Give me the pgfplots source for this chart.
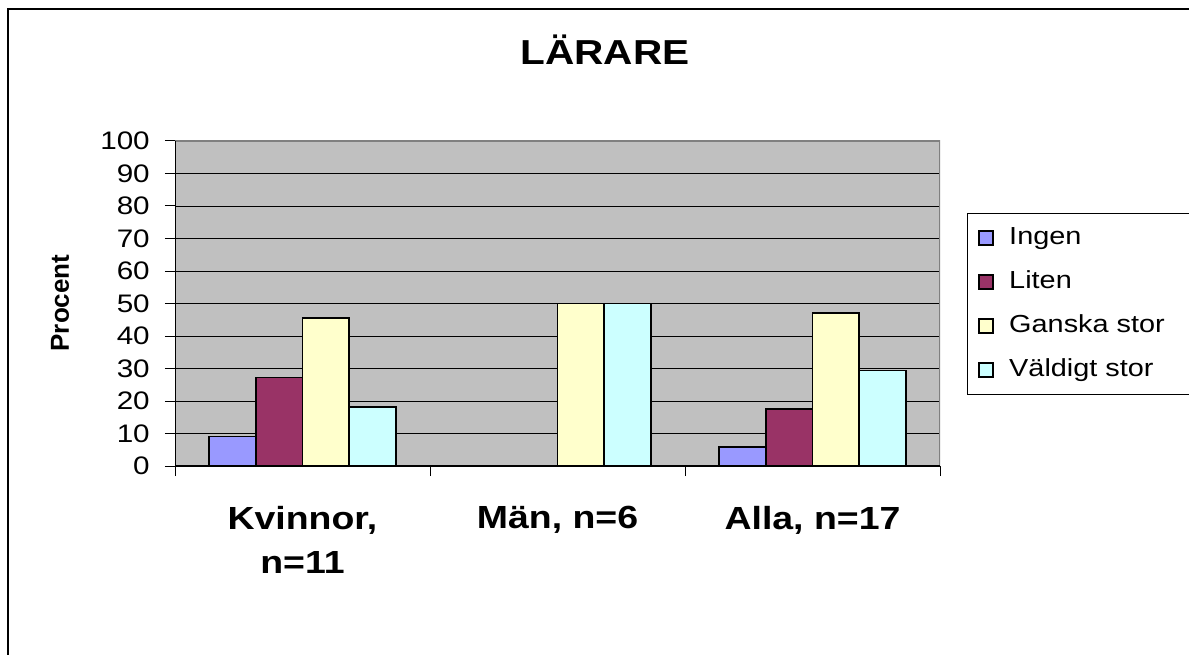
\documentclass[border=0pt]{standalone}
\usepackage{fontspec}
\setmainfont{Liberation Sans}
\usepackage{graphicx}
\usepackage{pgfplots}
\pgfplotsset{compat=1.18}
\definecolor{ingen}{HTML}{9999FF}
\definecolor{liten}{HTML}{993366}
\definecolor{ganska}{HTML}{FFFFCC}
\definecolor{valdigt}{HTML}{CCFFFF}
\definecolor{plotbg}{HTML}{C0C0C0}
\definecolor{pframe}{HTML}{808080}
\newcommand\sx[1]{\scalebox{1.17}[1]{#1}}
\begin{document}
\begin{tikzpicture}
\useasboundingbox (0,0) rectangle (891.75pt,490.5pt);
\draw[line width=1.4pt] (6pt,-5pt) -- (6pt,483.75pt) -- (900pt,483.75pt);
\begin{axis}[
  at={(131.25pt,141pt)}, anchor=south west,
  width=573.75pt, height=243.75pt, scale only axis,
  xmin=-0.5, xmax=2.5, ymin=0, ymax=100,
  ybar=0pt, bar width=0.183,
  axis background/.style={fill=plotbg},
  axis line style={draw=none},
  ytick={0,10,...,100},
  yticklabel={\sx{\pgfmathprintnumber[assume math mode=true]{\tick}}},
  yticklabel style={font=\fontsize{19}{22}\selectfont, anchor=east, inner sep=0pt, xshift=-11.25pt},
  ymajorgrids, major grid style={black, line width=0.7pt},
  tick align=outside, ytick pos=left, xtick pos=bottom,
  major tick length=7.5pt,
  tick style={black, line width=0.75pt},
  xtick={-0.5,0.5,1.5,2.5}, xticklabels={},
  extra x ticks={0,1,2},
  extra x tick labels={{\sx{Kvinnor,}\\\sx{n=11}}, {\sx{Män, n=6}}, {\sx{Alla, n=17}}},
  extra x tick style={major tick length=0pt, tick label style={font=\bfseries\fontsize{24}{33}\selectfont, align=center, anchor=north, inner sep=0pt, yshift=-30pt}},
  title={\sx{LÄRARE}},
  title style={font=\bfseries\fontsize{26}{30}\selectfont, at={(axis description cs:0.562,1.2123)}, anchor=base},
  ylabel={Procent},
  ylabel style={font=\bfseries\fontsize{19.5}{22}\selectfont, at={(axis description cs:-0.1503,0.5015)}, anchor=center},
  legend image code/.code={\draw[#1] (0pt,-5pt) rectangle (10.5pt,5.5pt);},
  legend cell align=left,
  legend style={at={(1.0353,0.7785)}, anchor=north west, draw=black, line width=0.75pt, fill=white,
    inner xsep=8pt, inner ysep=10pt, row sep=16pt, column sep=11.5pt,
    font=\fontsize{18.5}{20}\selectfont,
    nodes={inner sep=0pt, text height=13pt, text depth=4pt}},
]
\addplot[fill=ingen, draw=black, line width=1.3pt] coordinates {(0,9.09) (2,5.88)};
\addlegendentry{\makebox[140pt][l]{\sx{Ingen}}}
\addplot[fill=liten, draw=black, line width=1.3pt] coordinates {(0,27.27) (2,17.65)};
\addlegendentry{\makebox[140pt][l]{\sx{Liten}}}
\addplot[fill=ganska, draw=black, line width=1.3pt] coordinates {(0,45.45) (1,50) (2,47.06)};
\addlegendentry{\makebox[140pt][l]{\sx{Ganska stor}}}
\addplot[fill=valdigt, draw=black, line width=1.3pt] coordinates {(0,18.18) (1,50) (2,29.41)};
\addlegendentry{\makebox[140pt][l]{\sx{Väldigt stor}}}
\draw[pframe, line width=1.5pt] (rel axis cs:0,0) rectangle (rel axis cs:1,1);
\draw[black, line width=1.5pt] (rel axis cs:0,1) -- (rel axis cs:0,0) -- (rel axis cs:1,0);
\end{axis}
\end{tikzpicture}
\end{document}
